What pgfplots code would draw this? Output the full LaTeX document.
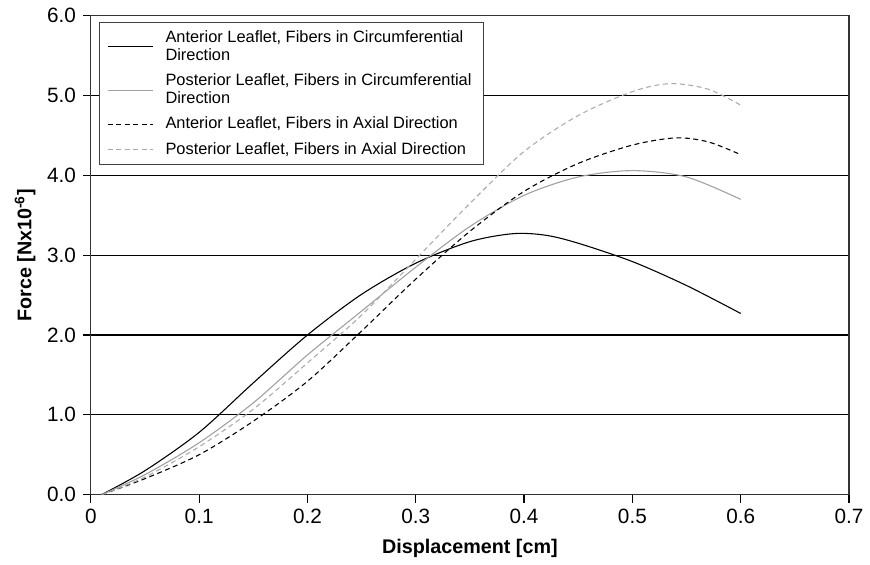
\documentclass[border=0pt]{standalone}
\usepackage{pgfplots}
\pgfplotsset{compat=1.18}
\usepackage{fontspec}
\setmainfont{Liberation Sans}
\definecolor{lightgr}{HTML}{ABABAB}
\definecolor{midgr}{HTML}{A0A0A0}
\begin{document}
\begin{tikzpicture}
\begin{axis}[
    scale only axis,
    width=384pt, height=242.5pt,
    xmin=0, xmax=0.7, ymin=0, ymax=6,
    xtick={0,0.1,...,0.7},
    ytick={0,1,...,6},
    ymajorgrids,
    major grid style={black, line width=0.6pt},
    axis line style={black!80, line width=0.6pt},
    tick style={black, line width=0.6pt},
    tick align=outside,
    xtick pos=left, ytick pos=left,
    major tick length=4pt,
    /pgf/number format/assume math mode=true,
    ticklabel style={font=\fontsize{10.5}{12}\selectfont},
    xticklabel style={/pgf/number format/fixed, /pgf/number format/precision=1},
    yticklabel style={/pgf/number format/fixed, /pgf/number format/fixed zerofill, /pgf/number format/precision=1},
    xlabel={\textbf{Displacement [cm]}},
    ylabel={\textbf{Force [Nx10\textsuperscript{-6}]}},
    label style={font=\fontsize{10}{12}\selectfont},
    xlabel style={yshift=-1pt},
    ylabel style={yshift=-1pt},
    clip=false,
    legend style={at={(0.0104,0.9876)}, anchor=north west,
        draw=black!75, line width=0.5pt,
        font=\fontsize{8.3}{9.3}\selectfont,
        cells={align=left, anchor=west},
        row sep=1.2pt, inner xsep=4pt, inner ysep=2pt},
    legend image code/.code={\draw[#1] plot coordinates {(0cm,0cm) (0.8cm,0cm)};
        \path (0.95cm,0cm);},
]
% invisible frame for the page size
\path (rel axis cs:-0.1198,-0.1299) rectangle (rel axis cs:1.013,1.033);

\addplot[black, line width=0.55pt, smooth] coordinates {
    (0.01,0) (0.05,0.30) (0.10,0.78) (0.15,1.40) (0.20,2.00) (0.25,2.51)
    (0.30,2.90) (0.35,3.17) (0.39,3.27) (0.42,3.25) (0.45,3.15) (0.50,2.92)
    (0.55,2.62) (0.60,2.27)
};
\addplot[midgr, line width=0.55pt, smooth] coordinates {
    (0.01,0) (0.05,0.25) (0.10,0.65) (0.15,1.15) (0.20,1.75) (0.25,2.30)
    (0.30,2.85) (0.35,3.36) (0.40,3.75) (0.45,3.98) (0.50,4.06) (0.55,3.98)
    (0.60,3.70)
};
\addplot[black, line width=0.55pt, dash pattern=on 2.5pt off 1.8pt, smooth] coordinates {
    (0.01,0) (0.05,0.20) (0.10,0.50) (0.15,0.92) (0.20,1.42) (0.25,2.05)
    (0.30,2.70) (0.35,3.30) (0.40,3.80) (0.45,4.15) (0.50,4.38) (0.54,4.47)
    (0.57,4.42) (0.60,4.26)
};
\addplot[lightgr, line width=0.55pt, dash pattern=on 2.5pt off 1.8pt, smooth] coordinates {
    (0.01,0) (0.05,0.22) (0.10,0.60) (0.15,1.07) (0.20,1.65) (0.25,2.25)
    (0.30,2.95) (0.35,3.65) (0.40,4.30) (0.45,4.75) (0.50,5.05) (0.535,5.15)
    (0.57,5.08) (0.60,4.88)
};
\legend{{Anterior Leaflet, Fibers in Circumferential\\Direction},
        {Posterior Leaflet, Fibers in Circumferential\\Direction},
        {Anterior Leaflet, Fibers in Axial Direction},
        {Posterior Leaflet, Fibers in Axial Direction}}
\end{axis}
\end{tikzpicture}
\end{document}
